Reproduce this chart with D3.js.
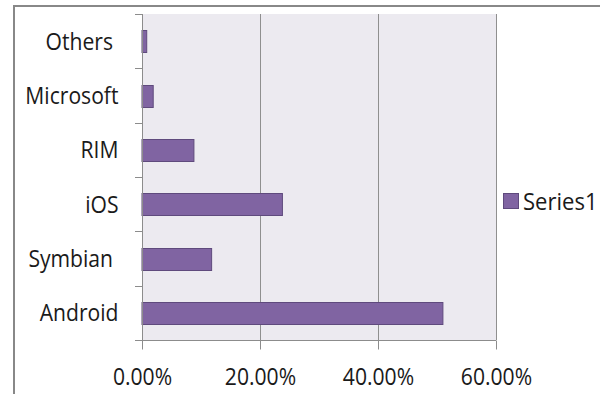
<!DOCTYPE html>
<html>
<head>
<meta charset="utf-8">
<script src="https://cdn.jsdelivr.net/npm/d3@7"></script>
<style>
  html, body { margin: 0; padding: 0; background: #fff; }
  svg { display: block; }
  text { font-family: "Open Sans", "Liberation Sans", sans-serif; fill: #1a1a1a; }
</style>
</head>
<body>
<svg id="chart" width="600" height="394"></svg>
<script>
// ---- data ----
const categories = ["Android", "Symbian ", "iOS", "RIM", "Microsoft", "Others "];
const series1 = [0.51, 0.118, 0.238, 0.088, 0.019, 0.008];
const xTicks = [0, 0.2, 0.4, 0.6];
const seriesName = "Series1";

// ---- layout ----
const svg = d3.select("#chart");
const plot = { left: 142, right: 496, top: 14, bottom: 340 };

const x = d3.scaleLinear().domain([0, 0.6]).range([plot.left, plot.right]);
const y = d3.scaleBand()
  .domain(categories.slice().reverse())
  .range([plot.top, plot.bottom])
  .paddingInner(0.6)
  .paddingOuter(0.3);

// outer frame
svg.append("rect")
  .attr("x", 14).attr("y", 6)
  .attr("width", 620).attr("height", 420)
  .attr("fill", "#fff")
  .attr("stroke", "#888888")
  .attr("stroke-width", 2);

// plot background
svg.append("rect")
  .attr("x", plot.left).attr("y", plot.top)
  .attr("width", plot.right - plot.left)
  .attr("height", plot.bottom - plot.top)
  .attr("fill", "#ECEAF0");

// gridlines
svg.append("g")
  .selectAll("line")
  .data(xTicks.slice(1))
  .join("line")
  .attr("x1", d => Math.round(x(d)) + 0.5)
  .attr("x2", d => Math.round(x(d)) + 0.5)
  .attr("y1", plot.top)
  .attr("y2", plot.bottom)
  .attr("stroke", "#8f8f8f")
  .attr("stroke-width", 1);

// bars
svg.append("g")
  .selectAll("rect")
  .data(categories.map((c, i) => ({ c, v: series1[i] })))
  .join("rect")
  .attr("x", x(0))
  .attr("y", d => Math.round(y(d.c)) + 0.5)
  .attr("width", d => x(d.v) - x(0))
  .attr("height", Math.round(y.bandwidth()))
  .attr("fill", "#8064A2")
  .attr("stroke", "#5F4A7D")
  .attr("stroke-width", 1);

// x axis
const xAxis = d3.axisBottom(x)
  .tickValues(xTicks)
  .tickSize(9)
  .tickFormat(d => (d * 100).toFixed(2) + "%");
const gx = svg.append("g")
  .attr("transform", `translate(0,${plot.bottom + 0.5})`)
  .call(xAxis);
gx.select(".domain").attr("stroke", "#8c8c8c").attr("d", `M${plot.left},0H${plot.right}`);
gx.selectAll(".tick line").attr("stroke", "#8c8c8c");
gx.selectAll(".tick text")
  .attr("font-size", 24)
  .attr("y", 0)
  .attr("dy", 0)
  .attr("transform", "translate(0,44.5) scale(0.88,1)")
  .attr("fill", "#1a1a1a")
  .attr("font-family", "'Open Sans', sans-serif");

// y axis
const yAxis = d3.axisLeft(y).tickSize(0).tickPadding(0);
const gy = svg.append("g")
  .attr("transform", `translate(${plot.left + 0.5},0)`)
  .call(yAxis);
gy.select(".domain").attr("stroke", "#8c8c8c").attr("d", `M0,${plot.top}V${plot.bottom}`);
gy.selectAll(".tick text")
  .attr("font-size", 24)
  .attr("x", 0)
  .attr("dy", 0)
  .attr("text-anchor", "end")
  .attr("xml:space", "preserve")
  .style("white-space", "pre")
  .attr("transform", "translate(-24,8.6) scale(0.88,1)")
  .attr("fill", "#1a1a1a")
  .attr("font-family", "'Open Sans', sans-serif");

// y band boundary ticks
const bounds = [plot.top].concat(y.domain().map(c => y(c) - y.step() * y.paddingInner() / 2 + y.step()));
svg.append("g")
  .selectAll("line")
  .data(bounds)
  .join("line")
  .attr("x1", plot.left - 7)
  .attr("x2", plot.left + 0.5)
  .attr("y1", d => Math.round(d) + 0.5)
  .attr("y2", d => Math.round(d) + 0.5)
  .attr("stroke", "#8c8c8c");

// legend
const lg = svg.append("g").attr("transform", "translate(503,193)");
lg.append("rect")
  .attr("x", 0.5).attr("y", 0.5)
  .attr("width", 15).attr("height", 15)
  .attr("fill", "#8064A2")
  .attr("stroke", "#5F4A7D");
lg.append("text")
  .attr("transform", "translate(20,16.5) scale(0.92,1)")
  .attr("font-size", 24)
  .text(seriesName);
</script>
</body>
</html>
